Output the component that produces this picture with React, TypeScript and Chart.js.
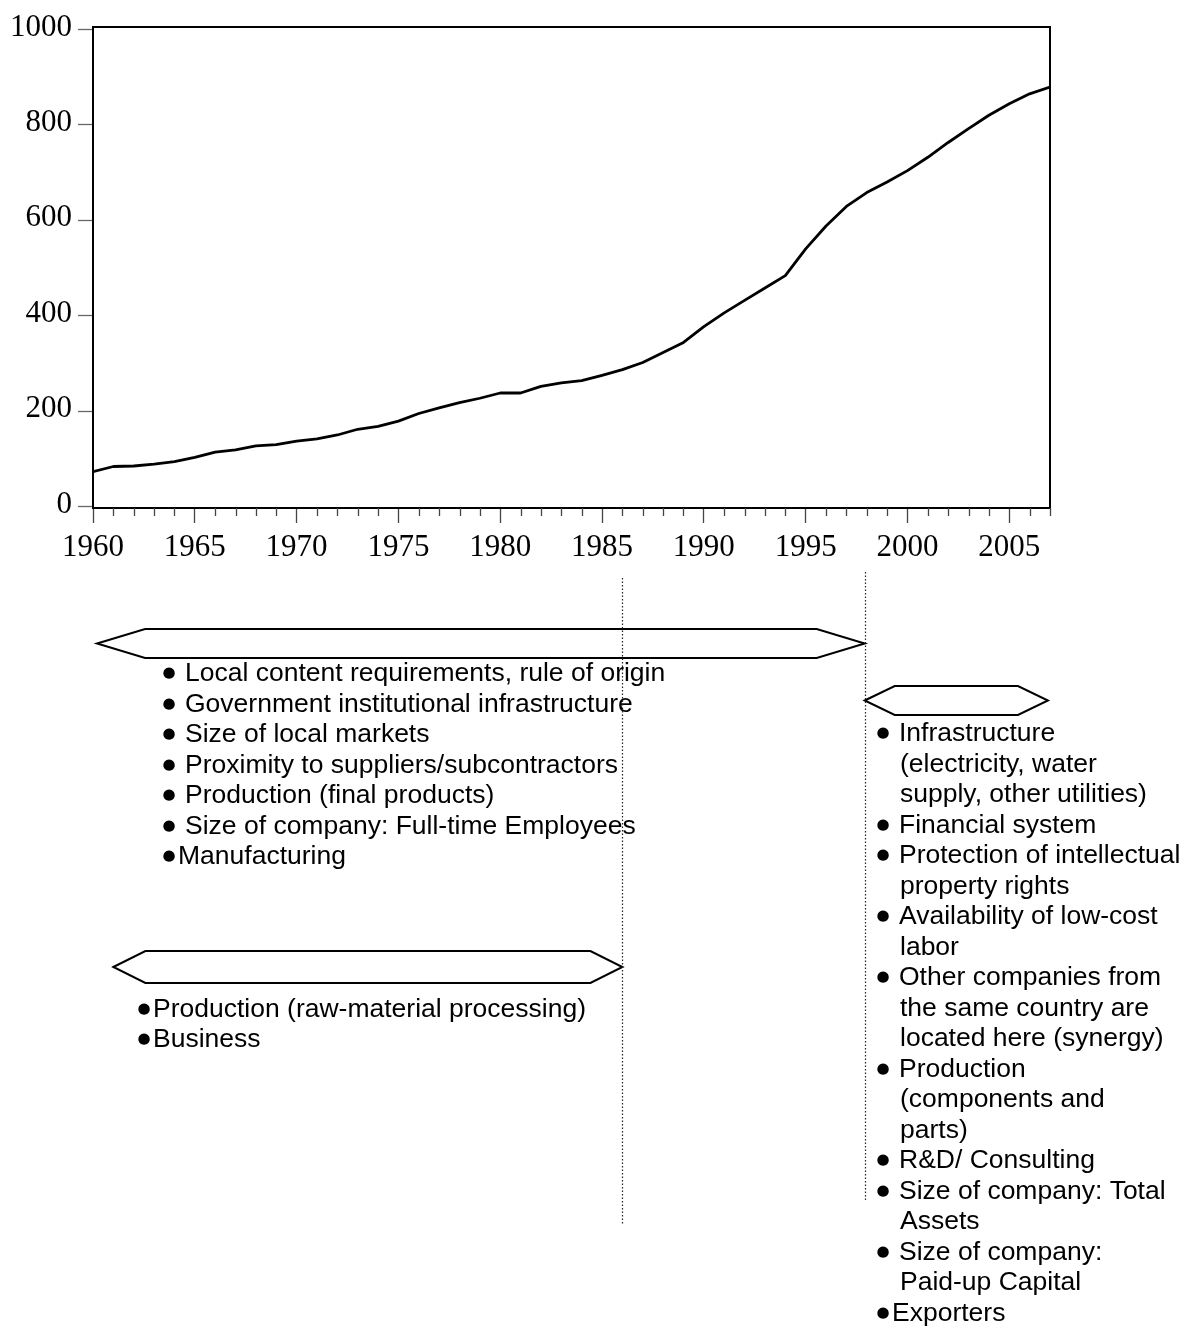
import React, { useEffect, useRef } from "react";
import { Chart, registerables } from "chart.js";

Chart.register(...registerables);

// ---------- data ----------
const years = [
  1960, 1961, 1962, 1963, 1964, 1965, 1966, 1967, 1968, 1969,
  1970, 1971, 1972, 1973, 1974, 1975, 1976, 1977, 1978, 1979,
  1980, 1981, 1982, 1983, 1984, 1985, 1986, 1987, 1988, 1989,
  1990, 1991, 1992, 1993, 1994, 1995, 1996, 1997, 1998, 1999,
  2000, 2001, 2002, 2003, 2004, 2005, 2006, 2007,
];
const values = [
  73, 84, 85, 89, 94, 103, 114, 119, 127, 130,
  137, 142, 150, 162, 168, 179, 195, 207, 218, 227,
  238, 238, 252, 259, 264, 275, 287, 302, 323, 344,
  377, 406, 432, 458, 484, 540, 588, 629, 658, 680,
  704, 732, 763, 792, 820, 844, 865, 879,
];
const yTicks = [0, 200, 400, 600, 800, 1000];
const xLabelYears = [1960, 1965, 1970, 1975, 1980, 1985, 1990, 1995, 2000, 2005];

// period separators (years on the x scale)
const periodMarkers = [1986, 1997.9];
// arrow spans (years)
const arrowSpans = [
  [1960.2, 1997.9],
  [1961, 1986],
  [1997.9, 2006.9],
];

const listEarlyLong = [
  "● Local content requirements, rule of origin",
  "● Government institutional infrastructure",
  "● Size of local markets",
  "● Proximity to suppliers/subcontractors",
  "● Production (final products)",
  "● Size of company: Full-time Employees",
  "●Manufacturing",
];
const listEarlyShort = [
  "●Production (raw-material processing)",
  "●Business",
];
const listLate = [
  "● Infrastructure",
  "(electricity, water",
  "supply, other utilities)",
  "● Financial system",
  "● Protection of intellectual",
  "property rights",
  "● Availability of low-cost",
  "labor",
  "● Other companies from",
  "the same country are",
  "located here (synergy)",
  "● Production",
  "(components and",
  "parts)",
  "● R&D/ Consulting",
  "● Size of company: Total",
  "Assets",
  "● Size of company:",
  "Paid-up Capital",
  "●Exporters",
];

// ---------- drawing helpers ----------
const LIST_FONT = "26.5px 'Liberation Sans', Arial, sans-serif";
const SERIF = "'Liberation Serif', 'Times New Roman', serif";

function drawBullet(ctx: CanvasRenderingContext2D, cx: number, cy: number) {
  ctx.save();
  const base = 20;
  ctx.font = `${base}px 'DejaVu Sans'`;
  let m = ctx.measureText("●");
  const w0 = m.actualBoundingBoxLeft + m.actualBoundingBoxRight;
  const size = w0 > 0 ? (base * 12) / w0 : base;
  ctx.font = `${size}px 'DejaVu Sans'`;
  m = ctx.measureText("●");
  ctx.textAlign = "left";
  ctx.textBaseline = "alphabetic";
  const x0 = cx - (m.actualBoundingBoxRight - m.actualBoundingBoxLeft) / 2;
  const y0 = cy + (m.actualBoundingBoxAscent - m.actualBoundingBoxDescent) / 2;
  ctx.fillStyle = "#000";
  ctx.fillText("●", x0, y0);
  ctx.restore();
}

function drawList(
  ctx: CanvasRenderingContext2D,
  lines: string[],
  bulletX: number,
  firstBaseline: number,
  step: number
) {
  lines.forEach((line, i) => {
    const yb = firstBaseline + i * step;
    let text = line;
    let tx = bulletX + 23;
    if (line.startsWith("● ")) {
      drawBullet(ctx, bulletX + 6, yb - 8);
      text = line.slice(2);
      tx = bulletX + 22;
    } else if (line.startsWith("●")) {
      drawBullet(ctx, bulletX + 6, yb - 8);
      text = line.slice(1);
      tx = bulletX + 15;
    }
    ctx.font = LIST_FONT;
    ctx.fillStyle = "#000";
    ctx.textAlign = "left";
    ctx.textBaseline = "alphabetic";
    ctx.fillText(text, tx, yb);
  });
}

function hexArrow(
  ctx: CanvasRenderingContext2D,
  x1: number,
  x2: number,
  top: number,
  bottom: number,
  head: number
) {
  const cy = (top + bottom) / 2;
  ctx.beginPath();
  ctx.moveTo(x1, cy);
  ctx.lineTo(x1 + head, top);
  ctx.lineTo(x2 - head, top);
  ctx.lineTo(x2, cy);
  ctx.lineTo(x2 - head, bottom);
  ctx.lineTo(x1 + head, bottom);
  ctx.closePath();
  ctx.fillStyle = "#fff";
  ctx.fill();
  ctx.lineWidth = 2;
  ctx.strokeStyle = "#000";
  ctx.lineJoin = "miter";
  ctx.stroke();
}

const annotationPlugin = {
  id: "periodAnnotations",
  afterDraw(chart: any) {
    const { ctx, chartArea } = chart;
    const { left, top, right, bottom } = chartArea;
    const xs = chart.scales.x;
    ctx.save();

    // frame (top + right)
    ctx.strokeStyle = "#000";
    ctx.lineWidth = 2;
    ctx.beginPath();
    ctx.moveTo(left, top);
    ctx.lineTo(right, top);
    ctx.lineTo(right, bottom);
    ctx.stroke();

    // minor year ticks
    ctx.strokeStyle = "#444";
    ctx.lineWidth = 1.3;
    ctx.beginPath();
    years.forEach((yr) => {
      if (yr % 5 !== 0) {
        const px = Math.round(xs.getPixelForValue(yr)) + 0.5;
        ctx.moveTo(px, bottom);
        ctx.lineTo(px, bottom + 8);
      }
    });
    ctx.stroke();

    // arrows
    const bands = [
      { top: 629, bottom: 658, head: 48 },
      { top: 951, bottom: 983, head: 32 },
      { top: 686, bottom: 715, head: 30 },
    ];
    arrowSpans.forEach((span, i) => {
      const b = bands[i];
      hexArrow(ctx, xs.getPixelForValue(span[0]), xs.getPixelForValue(span[1]), b.top, b.bottom, b.head);
    });

    // lists
    drawList(ctx, listEarlyLong, 163, 681, 30.5);
    drawList(ctx, listEarlyShort, 138, 1017, 30);
    drawList(ctx, listLate, 877, 741, 30.5);

    // dotted separators
    const spans = [
      [578, 1225],
      [572, 1201],
    ];
    ctx.strokeStyle = "#222";
    ctx.lineWidth = 1.2;
    ctx.setLineDash([1.5, 2]);
    periodMarkers.forEach((yr, i) => {
      const px = Math.round(xs.getPixelForValue(yr)) + 0.5;
      ctx.beginPath();
      ctx.moveTo(px, spans[i][0]);
      ctx.lineTo(px, spans[i][1]);
      ctx.stroke();
    });
    ctx.setLineDash([]);
    ctx.restore();
  },
};

export default function App() {
  const canvasRef = useRef<HTMLCanvasElement | null>(null);

  useEffect(() => {
    const canvas = canvasRef.current;
    if (!canvas) return;
    const chart = new Chart(canvas, {
      type: "line",
      data: {
        datasets: [
          {
            data: years.map((yr, i) => ({ x: yr, y: values[i] })),
            borderColor: "#000",
            borderWidth: 2.8,
            pointRadius: 0,
            tension: 0,
            fill: false,
            borderJoinStyle: "round",
          },
        ],
      },
      options: {
        animation: false,
        responsive: true,
        maintainAspectRatio: false,
        layout: { padding: { left: 0, top: 27, right: 142, bottom: 761 } },
        plugins: {
          legend: { display: false },
          tooltip: { enabled: false },
        },
        scales: {
          x: {
            type: "linear",
            min: 1960,
            max: 2007,
            afterFit: (scale: any) => {
              scale.height = 60;
            },
            afterBuildTicks: (scale: any) => {
              scale.ticks = years.map((v) => ({ value: v }));
            },
            ticks: {
              autoSkip: false,
              maxRotation: 0,
              minRotation: 0,
              padding: 6,
              color: "#000",
              font: { family: SERIF, size: 31 },
              callback: (v: any) => (xLabelYears.includes(Number(v)) ? String(v) : ""),
            },
            grid: {
              drawOnChartArea: false,
              drawTicks: true,
              tickLength: 15,
              tickWidth: 1.3,
              tickColor: (c: any) =>
                c.tick && xLabelYears.includes(c.tick.value) ? "#444" : "rgba(0,0,0,0)",
            },
            border: { color: "#000", width: 2 },
          },
          y: {
            min: -3,
            max: 1005,
            afterFit: (scale: any) => {
              scale.width = 93;
            },
            afterBuildTicks: (scale: any) => {
              scale.ticks = yTicks.map((v) => ({ value: v }));
            },
            ticks: {
              padding: 6,
              labelOffset: -2,
              color: "#000",
              font: { family: SERIF, size: 31 },
              callback: (v: any) => String(v),
            },
            grid: {
              drawOnChartArea: false,
              drawTicks: true,
              tickLength: 15,
              tickWidth: 1.3,
              tickColor: "#666",
            },
            border: { color: "#000", width: 2 },
          },
        },
      },
      plugins: [annotationPlugin],
    });
    return () => chart.destroy();
  }, []);

  return (
    <div
      style={{
        position: "absolute",
        left: 0,
        top: 0,
        width: 1192,
        height: 1329,
        background: "#fff",
      }}
    >
      <canvas ref={canvasRef} />
    </div>
  );
}
